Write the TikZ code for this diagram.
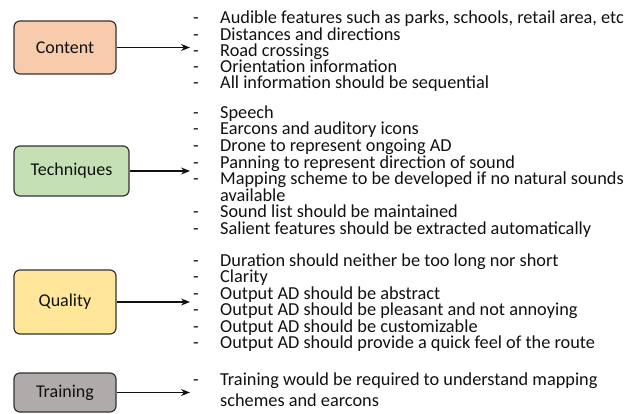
\documentclass[tikz,border=0pt]{standalone}
\usepackage{fontspec}
\setmainfont{Carlito}
\usetikzlibrary{arrows.meta}
\definecolor{cpeach}{HTML}{F8CBAD}
\definecolor{cgreen}{HTML}{C5E0B4}
\definecolor{cyellow}{HTML}{FFE699}
\definecolor{cgray}{HTML}{AFABAB}
\definecolor{edgecol}{HTML}{333333}
\definecolor{txt}{HTML}{111111}
\newcommand\lidash{\makebox[27pt][l]{-}}
\begin{document}
\begin{tikzpicture}[x=1pt,y=-1pt,
  box/.style={draw=edgecol, line width=1.2pt, rounded corners=6pt, font=\fontsize{18}{18}\selectfont, text=txt, inner sep=0pt},
  item/.style={anchor=base west, inner sep=0pt, text height=11pt, text depth=3pt, font=\fontsize{18.3}{18}\selectfont, text=txt},
  conn/.style={-{Stealth[length=9pt,width=7pt]}, line width=1.2pt, draw=txt, shorten >=3pt}]
\useasboundingbox (0,0) rectangle (642,414);

% boxes
\node[box, fill=cpeach,  minimum width=102pt, minimum height=53pt] (content) at (65,47.5) {Content};
\node[box, fill=cgreen,  minimum width=115pt, minimum height=50pt] (tech) at (71.5,171) {Techniques};
\node[box, fill=cyellow, minimum width=102pt, minimum height=64pt] (quality) at (65,302) {Quality};
\node[box, fill=cgray,   minimum width=102pt, minimum height=39pt] (training) at (65,392.5) {Training};

% content items
\node[item] (c1) at (193,24)   {\lidash Audible features such as parks, schools, retail area, etc};
\node[item] (c2) at (193,40.1) {\lidash Distances and directions};
\node[item] (c3) at (193,56.2) {\lidash Road crossings};
\node[item] (c4) at (193,72.3) {\lidash Orientation information};
\node[item] (c5) at (193,88.4) {\lidash All information should be sequential};

% technique items
\node[item] (t1) at (193,118.5) {\lidash Speech};
\node[item] (t2) at (193,135)   {\lidash Earcons and auditory icons};
\node[item] (t3) at (193,151.5) {\lidash Drone to represent ongoing AD};
\node[item] (t4) at (193,168)   {\lidash Panning to represent direction of sound};
\node[item] (t5) at (193,184.5) {\lidash Mapping scheme to be developed if no natural sounds};
\node[item] (t6) at (220,201)   {available};
\node[item] (t7) at (193,217.5) {\lidash Sound list should be maintained};
\node[item] (t8) at (193,234)   {\lidash Salient features should be extracted automatically};

% quality items
\node[item] (q1) at (193,266.5) {\lidash Duration should neither be too long nor short};
\node[item] (q2) at (193,282.9) {\lidash Clarity};
\node[item] (q3) at (193,299.3) {\lidash Output AD should be abstract};
\node[item] (q4) at (193,315.7) {\lidash Output AD should be pleasant and not annoying};
\node[item] (q5) at (193,332.1) {\lidash Output AD should be customizable};
\node[item] (q6) at (193,348.5) {\lidash Output AD should provide a quick feel of the route};

% training items
\node[item] (r1) at (193,385)   {\lidash Training would be required to understand mapping};
\node[item] (r2) at (220,406.7) {schemes and earcons};

% connectors
\draw[conn] (content.east)  -- (content.east -| c3.west);
\draw[conn] (tech.east)     -- (tech.east -| t4.west);
\draw[conn] (quality.east)  -- (quality.east -| q3.west);
\draw[conn] (training.east) -- (training.east -| r1.west);
\end{tikzpicture}
\end{document}
